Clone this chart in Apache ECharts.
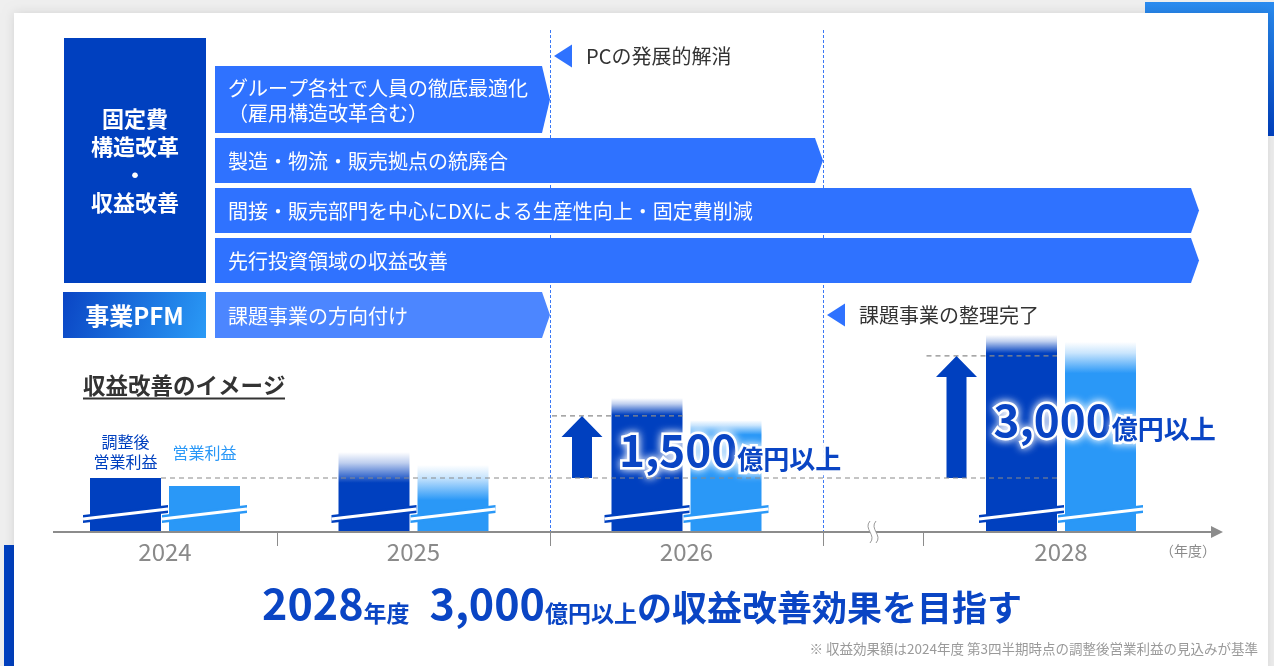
<!DOCTYPE html>
<html>
<head>
<meta charset="utf-8">
<script src="https://cdn.jsdelivr.net/npm/echarts@6/dist/echarts.min.js"></script>
<style>
html,body{margin:0;padding:0;background:#efefef;}
#c{width:1274px;height:666px;}
</style>
</head>
<body>
<div id="c"></div>
<script>
// ---------------- data ----------------
const years = ['2024', '2025', '2026', '2028'];
const adjustedTop = [100, 148, 248, 365];     // top of 調整後営業利益 bar (incl. faded range)
const adjustedSolid = [100, 91, 217, 331];    // where 調整後営業利益 bar becomes solid
const operatingTop = [85, 124, 207, 352];     // top of 営業利益 bar (incl. faded range)
const operatingSolid = [85, 59, 180, 294];    // where 営業利益 bar becomes solid
const baselineValue = 100;
const targetYears = ['2026', '2028'];
const targetValues = [215, 326];
const targetAmounts = [1500, 3000];
const seriesNames = ['調整後\n営業利益', '営業利益'];
const measureTitle = ['固定費', '構造改革', '・', '収益改善'];
const pfmTitle = '事業PFM';
const tasks = [
  'グループ各社で人員の徹底最適化\n（雇用構造改革含む）',
  '製造・物流・販売拠点の統廃合',
  '間接・販売部門を中心にDXによる生産性向上・固定費削減',
  '先行投資領域の収益改善',
  '課題事業の方向付け'
];
const taskEnds = ['2025', '2026', '2028', '2028', '2025'];
const milestones = ['PCの発展的解消', '課題事業の整理完了'];
const milestoneYears = ['2025', '2026'];
const chartTitle = '収益改善のイメージ';
const unitLabel = '（年度）';
const headlineParts = [['2028', 'd'], ['年度', 'sp'], ['3,000', 'd'], ['億円以上', 's'], ['の収益改善効果を目指す', 'm']];
const footnote = '※ 収益効果額は2024年度 第3四半期時点の調整後営業利益の見込みが基準';

// ---------------- style / layout ----------------
const FONT = '"Noto Sans CJK JP", "Noto Sans", sans-serif';
const DARK = '#0040BF', DARK_RGB = '0,64,191';
const LIGHT = '#2A98F7', LIGHT_RGB = '42,152,247';
const ARROW = '#2F72FF', ARROW2 = '#4C86FF';
const TEXT_BLUE = '#0A45C4';
const gridYears = [['2024'], ['2025', '2026'], ['2028']];
const grids = [{left: 53, width: 224}, {left: 277, width: 546}, {left: 923, width: 276}];
const AXIS_Y = 532, GRID_TOP = 316;
const BAR_W = 71, BAR_OFF = 39.5;

function loc(y) {
  for (let g = 0; g < gridYears.length; g++) {
    const i = gridYears[g].indexOf(y);
    if (i >= 0) return {g, i};
  }
}

function barsRender(params, api) {
  const cat = api.value(0);
  const k = api.value(5);
  const base = api.coord([cat, 0]);
  const cx = base[0];
  const children = [];
  const defs = [
    {top: api.value(1), solid: api.value(2), color: DARK, rgb: DARK_RGB, dx: -BAR_OFF},
    {top: api.value(3), solid: api.value(4), color: LIGHT, rgb: LIGHT_RGB, dx: BAR_OFF}
  ];
  const tops = [];
  defs.forEach(d => {
    const yt = api.coord([cat, d.top])[1];
    const ys = api.coord([cat, d.solid])[1];
    tops.push(yt);
    const x = cx + d.dx - BAR_W / 2;
    const h = base[1] - yt;
    let fill = d.color;
    if (ys - yt > 0.5) {
      const f = (ys - yt) / h;
      fill = new echarts.graphic.LinearGradient(0, 0, 0, 1, [
        {offset: 0, color: 'rgba(' + d.rgb + ',0)'},
        {offset: f * 0.35, color: 'rgba(' + d.rgb + ',0.25)'},
        {offset: f, color: d.color},
        {offset: 1, color: d.color}
      ]);
    }
    children.push({type: 'rect', shape: {x: x, y: yt, width: BAR_W, height: h}, style: {fill: fill}});
    const yc = base[1] - 18;
    const x0 = x - 7, x1 = x + BAR_W + 7;
    children.push({type: 'polygon', shape: {points: [[x0, yc + 5 - 4], [x1, yc - 5 - 4], [x1, yc - 5 + 4], [x0, yc + 5 + 4]]}, style: {fill: d.color}});
    children.push({type: 'line', shape: {x1: x0, y1: yc + 5, x2: x1, y2: yc - 5}, style: {stroke: '#fff', lineWidth: 3}});
  });
  if (k === 0) {
    children.push({type: 'text', style: {text: seriesNames[0], x: cx - BAR_OFF, y: tops[0] - 6, align: 'center', verticalAlign: 'bottom', fill: DARK, font: '16px ' + FONT, lineHeight: 20}});
    children.push({type: 'text', style: {text: seriesNames[1], x: cx + BAR_OFF, y: tops[0] - 25, align: 'center', verticalAlign: 'middle', fill: LIGHT, font: '16px ' + FONT}});
  }
  return {type: 'group', children};
}

function targetRender(params, api) {
  const cat = api.value(0);
  const pb = api.coord([cat, api.value(1)]);
  const pt = api.coord([cat, api.value(2)]);
  const amount = api.value(3);
  const cx = pb[0];
  const ax = cx - 104.5;
  const darkRight = cx - BAR_OFF + BAR_W / 2;
  const yb = pb[1], yt = pt[1];
  const txt = '{n|' + echarts.format.addCommas(amount) + '}{u|億円以上}';
  const glow = {stroke: '#fff', lineWidth: 5, textShadowColor: 'rgba(255,255,255,0.95)', textShadowBlur: 9};
  return {type: 'group', children: [
    {type: 'line', shape: {x1: ax - 30, y1: yt, x2: darkRight, y2: yt}, style: {stroke: '#8a8a8a', lineWidth: 1.2, lineDash: [5, 4]}},
    {type: 'polygon', shape: {points: [[ax - 10, yb], [ax - 10, yt + 21], [ax - 20.5, yt + 21], [ax, yt], [ax + 20.5, yt + 21], [ax + 10, yt + 21], [ax + 10, yb]]}, style: {fill: DARK}},
    {type: 'text', z2: 10, style: Object.assign({
      text: txt, x: ax + 37, y: (yb + yt) / 2 + 1, align: 'left', verticalAlign: 'middle', fill: TEXT_BLUE,
      rich: {
        n: Object.assign({fontSize: 44, fontWeight: 'bold', fontFamily: FONT, fill: TEXT_BLUE, verticalAlign: 'bottom', lineHeight: 48}, glow),
        u: Object.assign({fontSize: 26, fontWeight: 'bold', fontFamily: FONT, fill: TEXT_BLUE, verticalAlign: 'bottom', lineHeight: 41}, glow)
      }
    }, glow)}
  ]};
}

const series = [];
gridYears.forEach((ys, g) => {
  series.push({
    type: 'custom', xAxisIndex: g, yAxisIndex: g, z: 2,
    renderItem: barsRender,
    data: ys.map((y, i) => { const k = years.indexOf(y); return [i, adjustedTop[k], adjustedSolid[k], operatingTop[k], operatingSolid[k], k]; })
  });
  const td = [];
  targetYears.forEach((y, t) => { const i = ys.indexOf(y); if (i >= 0) td.push([i, baselineValue, targetValues[t], targetAmounts[t]]); });
  if (td.length) series.push({type: 'custom', xAxisIndex: g, yAxisIndex: g, z: 4, renderItem: targetRender, data: td});
});

const chart = echarts.init(document.getElementById('c'));
chart.setOption({
  animation: false,
  backgroundColor: '#efefef',
  textStyle: {fontFamily: FONT},
  grid: grids.map(g => ({left: g.left, width: g.width, top: GRID_TOP, height: AXIS_Y - GRID_TOP})),
  xAxis: gridYears.map((ys, g) => ({
    type: 'category', gridIndex: g, data: ys, z: 3,
    axisLine: {show: false}, axisTick: {show: false}, splitLine: {show: false},
    axisLabel: {color: '#8a8a8a', fontSize: 24, margin: 8, fontFamily: FONT}
  })),
  yAxis: gridYears.map((ys, g) => ({type: 'value', gridIndex: g, min: 0, max: 400, show: false})),
  series: series
});

// ---------- positions derived from the axes ----------
function centerX(y) { const l = loc(y); return chart.convertToPixel({xAxisIndex: l.g, yAxisIndex: l.g}, [l.i, 0])[0]; }
function halfBand(y) { const l = loc(y); return grids[l.g].width / gridYears[l.g].length / 2; }
function endX(y) { return centerX(y) + halfBand(y); }
function valueY(v) { return chart.convertToPixel({xAxisIndex: 0, yAxisIndex: 0}, [0, v])[1]; }

const G = [];
// background decorations
G.push({type: 'rect', z: -10, shape: {x: 1145, y: 2, width: 129, height: 134}, style: {fill: new echarts.graphic.LinearGradient(0, 0, 0, 1, [{offset: 0, color: '#2A8CF0'}, {offset: 1, color: '#0040BF'}])}});
G.push({type: 'rect', z: -10, shape: {x: 4, y: 545, width: 12, height: 121}, style: {fill: DARK}});
G.push({type: 'rect', z: -9, shape: {x: 14, y: 13, width: 1254, height: 660}, style: {fill: '#fff', shadowBlur: 10, shadowColor: 'rgba(0,0,0,0.12)'}});

// left headers
G.push({type: 'rect', z: 10, shape: {x: 64, y: 38, width: 142, height: 245}, style: {fill: DARK}});
G.push({type: 'text', z: 11, style: {text: measureTitle.join('\n'), x: 135, y: 161, align: 'center', verticalAlign: 'middle', fill: '#fff', font: 'bold 22px ' + FONT, lineHeight: 28}});
G.push({type: 'rect', z: 10, shape: {x: 63, y: 292, width: 143, height: 46}, style: {fill: new echarts.graphic.LinearGradient(0, 0, 1, 1, [{offset: 0, color: '#0A45C4'}, {offset: 1, color: '#2A9AF6'}])}});
G.push({type: 'text', z: 11, style: {text: pfmTitle, x: 134.5, y: 315.5, align: 'center', verticalAlign: 'middle', fill: '#fff', font: 'bold 24px ' + FONT}});

// vertical dashed period lines
milestoneYears.forEach(y => {
  const x = Math.round(endX(y)) + 0.5;
  G.push({type: 'line', z: 1, shape: {x1: x, y1: 30, x2: x, y2: 546}, style: {stroke: '#3A78F5', lineWidth: 1, lineDash: [3, 2]}});
});

// task arrows
const rows = [[66, 133], [138, 183], [188, 233], [238, 283], [292, 338]];
tasks.forEach((t, r) => {
  const [y0, y1] = rows[r];
  const ex = endX(taskEnds[r]);
  const ym = (y0 + y1) / 2;
  G.push({type: 'polygon', z: 10, shape: {points: [[215, y0], [ex - 8, y0], [ex, ym], [ex - 8, y1], [215, y1]]}, style: {fill: r === 4 ? ARROW2 : ARROW}});
  G.push({type: 'text', z: 11, style: {text: t, x: 228, y: ym + 1, align: 'left', verticalAlign: 'middle', fill: '#fff', font: '20px ' + FONT, lineHeight: 25}});
});

// milestones
const msY = [56, 315];
milestones.forEach((m, j) => {
  const bx = endX(milestoneYears[j]);
  const cy = msY[j];
  G.push({type: 'polygon', z: 10, shape: {points: [[bx + 4, cy], [bx + 22, cy - 11.5], [bx + 22, cy + 11.5]]}, style: {fill: ARROW}});
  G.push({type: 'text', z: 11, style: {text: m, x: bx + 36, y: cy, align: 'left', verticalAlign: 'middle', fill: '#333', font: '20px ' + FONT}});
});

// chart title
G.push({type: 'text', z: 11, style: {text: chartTitle, x: 83, y: 385, align: 'left', verticalAlign: 'middle', fill: '#333', font: 'bold 22.5px ' + FONT}});
G.push({type: 'line', z: 11, shape: {x1: 83, y1: 398.5, x2: 285, y2: 398.5}, style: {stroke: '#333', lineWidth: 2}});

// baseline dashed line
const by = valueY(baselineValue);
G.push({type: 'line', z: 5, shape: {x1: centerX(years[0]) - BAR_OFF + BAR_W / 2, y1: by, x2: centerX(years[years.length - 1]) - BAR_OFF + BAR_W / 2, y2: by}, style: {stroke: '#8a8a8a', lineWidth: 1.2, lineDash: [5, 4]}});

// x axis line, arrow, ticks, break mark
G.push({type: 'line', z: 6, shape: {x1: 53, y1: AXIS_Y, x2: 1214, y2: AXIS_Y}, style: {stroke: '#8c8c8c', lineWidth: 2}});
G.push({type: 'polygon', z: 6, shape: {points: [[1211, AXIS_Y - 6], [1223, AXIS_Y], [1211, AXIS_Y + 6]]}, style: {fill: '#8c8c8c'}});
[endX('2024'), endX('2025'), endX('2026'), grids[2].left].forEach(x => {
  G.push({type: 'line', z: 6, shape: {x1: Math.round(x) + 0.5, y1: AXIS_Y, x2: Math.round(x) + 0.5, y2: AXIS_Y + 14}, style: {stroke: '#8c8c8c', lineWidth: 1}});
});
const bk = (endX('2026') + grids[2].left) / 2;
G.push({type: 'rect', z: 7, shape: {x: bk - 3, y: AXIS_Y - 2, width: 6, height: 4}, style: {fill: '#fff'}});
[-3, 3].forEach(dx => {
  const x = bk + dx;
  G.push({type: 'bezierCurve', z: 8, shape: {x1: x, y1: AXIS_Y - 11, cpx1: x - 7, cpy1: AXIS_Y - 3, cpx2: x + 7, cpy2: AXIS_Y + 3, x2: x, y2: AXIS_Y + 11}, style: {stroke: '#9a9a9a', lineWidth: 1, fill: null}});
});
G.push({type: 'text', z: 6, style: {text: unitLabel, x: 1216, y: 551, align: 'right', verticalAlign: 'middle', fill: '#8a8a8a', font: '14px ' + FONT}});

// headline
G.push({type: 'text', z: 11, style: {
  text: headlineParts.map(p => '{' + p[1] + '|' + p[0] + '}').join(''),
  x: 642, y: 601, align: 'center', verticalAlign: 'middle', fill: TEXT_BLUE,
  rich: {
    d: {fontSize: 43, fontWeight: 'bold', fontFamily: FONT, fill: TEXT_BLUE, verticalAlign: 'bottom', lineHeight: 48},
    s: {fontSize: 23, fontWeight: 'bold', fontFamily: FONT, fill: TEXT_BLUE, verticalAlign: 'bottom', lineHeight: 41},
    sp: {fontSize: 23, fontWeight: 'bold', fontFamily: FONT, fill: TEXT_BLUE, verticalAlign: 'bottom', lineHeight: 41, padding: [0, 20, 0, 0]},
    m: {fontSize: 35, fontWeight: 'bold', fontFamily: FONT, fill: TEXT_BLUE, verticalAlign: 'bottom', lineHeight: 47}
  }
}});
G.push({type: 'text', z: 11, style: {text: footnote, x: 1258, y: 649, align: 'right', verticalAlign: 'middle', fill: '#9a9a9a', font: '13.5px ' + FONT}});

chart.setOption({graphic: {elements: G}});
</script>
</body>
</html>
